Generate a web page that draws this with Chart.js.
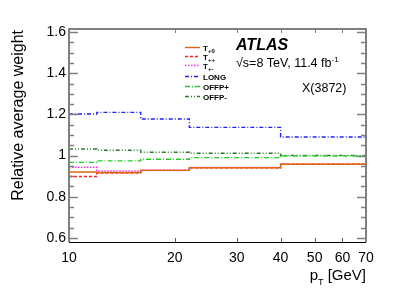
<!DOCTYPE html>
<html>
<head>
<meta charset="utf-8">
<script src="https://cdn.jsdelivr.net/npm/chart.js@4.4.1/dist/chart.umd.min.js"></script>
<style>
  html, body { margin: 0; padding: 0; background: #fff; }
  #wrap { width: 407px; height: 292px; }
</style>
</head>
<body>
<div id="wrap"><canvas id="chart" width="407" height="292"></canvas></div>
<script>
// pT bin edges [GeV] and relative average weight per bin
const binEdges = [10, 12, 16, 22, 40, 70];
const tPlus0   = [0.920, 0.918, 0.928, 0.941, 0.958];
const tPlusPlus = [0.898, 0.915, 0.928, 0.941, 0.958];
const tPlusMinus = [0.943, 0.925, 0.929, 0.942, 0.958];
const longW    = [1.202, 1.210, 1.178, 1.137, 1.090];
const offpPlus = [0.967, 0.974, 0.982, 0.990, 0.998];
const offpMinus = [1.032, 1.026, 1.016, 1.011, 1.001];

const xTicks = [10, 20, 30, 40, 50, 60, 70];
const yTicks = [0.6, 0.8, 1.0, 1.2, 1.4, 1.6];
const yTickLabels = ["0.6", "0.8", "1", "1.2", "1.4", "1.6"];

const FONT = "'Liberation Sans', Arial, Helvetica, sans-serif";
const FRAME = "#808080";

// legend: [main, subscript]
const seriesDefs = [
  { name: ["T", "+0"], data: tPlus0,     color: "#dd6611", dash: [] },
  { name: ["T", "++"], data: tPlusPlus,  color: "#ff2020", dash: [3, 2] },
  { name: ["T", "+-"], data: tPlusMinus, color: "#ff30ff", dash: [1.5, 1.5] },
  { name: ["LONG", ""], data: longW,     color: "#2020ff", dash: [4, 2, 1, 2] },
  { name: ["OFFP+", ""], data: offpPlus, color: "#22cc22", dash: [5, 2, 1, 2] },
  { name: ["OFFP-", ""], data: offpMinus, color: "#2a7a2a", dash: [4, 2, 1, 2, 1, 2] },
];

function stepData(vals) {
  return binEdges.map((e, i) => ({ x: e, y: vals[Math.min(i, vals.length - 1)] }));
}

const datasets = seriesDefs.map(s => ({
  label: s.name.join(""),
  data: stepData(s.data),
  borderColor: s.color,
  borderWidth: 1.4,
  borderDash: s.dash,
  stepped: "before",
  pointRadius: 0,
  fill: false,
}));

function subText(ctx, x, y, main, sub, size, subSize, weight) {
  ctx.font = `${weight} ${size}px ${FONT}`;
  ctx.fillText(main, x, y);
  const w = ctx.measureText(main).width;
  if (sub) {
    ctx.font = `${weight} ${subSize}px ${FONT}`;
    ctx.fillText(sub, x + w, y + size * 0.3);
  }
}

const decorations = {
  id: "decorations",
  afterDraw(chart) {
    const { ctx, chartArea: a, scales: { x, y } } = chart;
    ctx.save();
    ctx.setLineDash([]);

    // frame
    ctx.strokeStyle = FRAME;
    ctx.lineWidth = 2;
    ctx.beginPath();
    ctx.moveTo(a.left, a.bottom);
    ctx.lineTo(a.left, a.top);
    ctx.lineTo(a.right, a.top);
    ctx.lineTo(a.right, a.bottom);
    ctx.stroke();
    ctx.strokeStyle = "#000";
    ctx.lineWidth = 1;
    ctx.beginPath();
    ctx.moveTo(a.left, a.bottom + 0.5);
    ctx.lineTo(a.right, a.bottom + 0.5);
    ctx.stroke();

    // y ticks (inward, both sides)
    ctx.strokeStyle = FRAME;
    ctx.lineWidth = 1.5;
    for (let k = 0; k <= 20; k++) {
      const v = 0.6 + k * 0.05;
      const py = Math.round(y.getPixelForValue(v)) + 0.5;
      const len = k % 4 === 0 ? 9 : 5;
      ctx.beginPath();
      ctx.moveTo(a.left, py); ctx.lineTo(a.left + len, py);
      ctx.moveTo(a.right, py); ctx.lineTo(a.right - len, py);
      ctx.stroke();
    }
    // x ticks (inward, top and bottom)
    ctx.lineWidth = 1;
    xTicks.slice(1, -1).forEach(v => {
      const px = Math.round(x.getPixelForValue(v)) + 0.5;
      ctx.strokeStyle = "#555";
      ctx.beginPath();
      ctx.moveTo(px, a.bottom); ctx.lineTo(px, a.bottom - 4);
      ctx.stroke();
      ctx.strokeStyle = FRAME;
      ctx.beginPath();
      ctx.moveTo(px, a.top); ctx.lineTo(px, a.top + 4);
      ctx.stroke();
    });

    ctx.fillStyle = "#000";
    ctx.textBaseline = "alphabetic";

    // axis titles
    ctx.save();
    ctx.translate(23, a.top + 1);
    ctx.rotate(-Math.PI / 2);
    ctx.textAlign = "right";
    ctx.font = `16px ${FONT}`;
    ctx.fillText("Relative average weight", 0, 0);
    ctx.restore();

    ctx.textAlign = "left";
    ctx.font = `15px ${FONT}`;
    const rest = " [GeV]";
    const wRest = ctx.measureText(rest).width;
    const wP = ctx.measureText("p").width;
    ctx.font = `9px ${FONT}`;
    const wT = ctx.measureText("T").width;
    let tx = a.right - wRest - wT - wP;
    ctx.font = `15px ${FONT}`;
    ctx.fillText("p", tx, 280);
    ctx.font = `9px ${FONT}`;
    ctx.fillText("T", tx + wP, 285);
    ctx.font = `15px ${FONT}`;
    ctx.fillText(rest, tx + wP + wT, 280);

    // ATLAS label
    ctx.font = `italic bold 16px ${FONT}`;
    ctx.fillText("ATLAS", 236, 50);
    ctx.font = `12.5px ${FONT}`;
    const lum = "\u221As=8 TeV, 11.4 fb";
    ctx.fillText(lum, 236, 67);
    const wl = ctx.measureText(lum).width;
    ctx.font = `8px ${FONT}`;
    ctx.fillText("-1", 236 + wl, 62);
    ctx.font = `12.5px ${FONT}`;
    ctx.fillText("X(3872)", 302, 92);

    // legend
    const rows = [47, 56, 65, 76, 86, 96];
    seriesDefs.forEach((s, i) => {
      const ly = rows[i] + 0.5;
      ctx.strokeStyle = s.color;
      ctx.lineWidth = 1.4;
      ctx.setLineDash(s.dash);
      ctx.beginPath();
      ctx.moveTo(185, ly); ctx.lineTo(200, ly);
      ctx.stroke();
      ctx.setLineDash([]);
      ctx.fillStyle = "#000";
      subText(ctx, 203, ly + 3, s.name[0], s.name[1], 8, 6, "bold");
    });

    ctx.restore();
  },
};

new Chart(document.getElementById("chart"), {
  type: "line",
  data: { datasets },
  options: {
    responsive: false,
    animation: false,
    events: [],
    layout: { padding: { left: 0, right: 41, top: 29, bottom: 0 } },
    plugins: { legend: { display: false }, tooltip: { enabled: false } },
    scales: {
      x: {
        type: "logarithmic",
        min: 10,
        max: 70,
        afterBuildTicks: s => { s.ticks = xTicks.map(v => ({ value: v })); },
        afterFit: s => { s.height = 50; },
        grid: { display: false, drawTicks: false },
        border: { display: false },
        ticks: {
          autoSkip: false,
          maxRotation: 0,
          padding: 8,
          color: "#000",
          font: { family: FONT, size: 14 },
          callback: v => String(v),
        },
      },
      y: {
        type: "linear",
        min: 0.58,
        max: 1.615,
        afterBuildTicks: s => { s.ticks = yTicks.map(v => ({ value: v })); },
        afterFit: s => { s.width = 69; },
        grid: { display: false, drawTicks: false },
        border: { display: false },
        ticks: {
          padding: 3,
          color: "#000",
          font: { family: FONT, size: 14 },
          callback: (v) => yTickLabels[yTicks.findIndex(t => Math.abs(t - v) < 1e-6)] ?? "",
        },
      },
    },
  },
  plugins: [decorations],
});
</script>
</body>
</html>
